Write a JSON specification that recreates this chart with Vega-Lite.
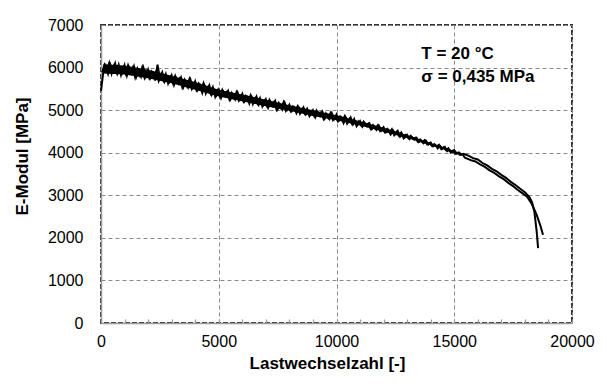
{
 "$schema": "https://vega.github.io/schema/vega-lite/v6.json",
 "width": 471, "height": 298,
 "autosize": {"type": "none"},
 "padding": {"left": 101, "top": 25, "right": 35, "bottom": 62},
 "background": "white",
 "config": {"view": {"stroke": "#333", "strokeWidth": 2, "strokeDash": [5, 2]}, "font": "Liberation Sans"},
 "datasets": {
  "band": [
   {"N":100,"lo":5860,"hi":6080},{"N":1000,"lo":5840,"hi":6050},{"N":2000,"lo":5750,"hi":5950},{"N":3000,"lo":5630,"hi":5810},{"N":4000,"lo":5480,"hi":5660},
   {"N":5000,"lo":5320,"hi":5480},{"N":6000,"lo":5210,"hi":5370},{"N":7000,"lo":5090,"hi":5245},{"N":8000,"lo":4985,"hi":5115},{"N":9000,"lo":4865,"hi":4995},
   {"N":10000,"lo":4760,"hi":4880},{"N":11000,"lo":4640,"hi":4740},{"N":12000,"lo":4495,"hi":4585},{"N":13000,"lo":4345,"hi":4415},{"N":14000,"lo":4175,"hi":4225},
   {"N":15000,"lo":4000,"hi":4040},{"N":15400,"lo":3940,"hi":3960}
  ],
  "A": [
   {"N":0,"E":5450},{"N":100,"E":5904},{"N":200,"E":6042},{"N":300,"E":5855},{"N":400,"E":6071},{"N":500,"E":5936},{"N":600,"E":6100},{"N":700,"E":5861},{"N":800,"E":5986},{"N":900,"E":5877},
   {"N":1000,"E":6054},{"N":1100,"E":5810},{"N":1200,"E":5995},{"N":1300,"E":5868},{"N":1400,"E":6027},{"N":1500,"E":5783},{"N":1600,"E":5929},{"N":1700,"E":5789},{"N":1800,"E":6000},{"N":1900,"E":5795},
   {"N":2000,"E":5954},{"N":2100,"E":5756},{"N":2200,"E":5870},{"N":2300,"E":5696},{"N":2400,"E":6070},{"N":2500,"E":5750},{"N":2600,"E":5887},{"N":2700,"E":5667},{"N":2800,"E":5769},{"N":2900,"E":5664},
   {"N":3000,"E":5812},{"N":3100,"E":5590},{"N":3200,"E":5748},{"N":3300,"E":5629},{"N":3400,"E":5764},{"N":3500,"E":5541},{"N":3600,"E":5665},{"N":3700,"E":5534},{"N":3800,"E":5715},{"N":3900,"E":5527},
   {"N":4000,"E":5674},{"N":4100,"E":5472},{"N":4200,"E":5582},{"N":4300,"E":5404},{"N":4400,"E":5583},{"N":4500,"E":5450},{"N":4600,"E":5583},{"N":4700,"E":5359},{"N":4800,"E":5457},{"N":4900,"E":5348},
   {"N":5000,"E":5480},{"N":5100,"E":5289},{"N":5200,"E":5428},{"N":5300,"E":5327},{"N":5400,"E":5446},{"N":5500,"E":5255},{"N":5600,"E":5364},{"N":5700,"E":5253},{"N":5800,"E":5412},{"N":5900,"E":5251},
   {"N":6000,"E":5380},{"N":6100,"E":5208},{"N":6200,"E":5306},{"N":6300,"E":5154},{"N":6400,"E":5312},{"N":6500,"E":5200},{"N":6600,"E":5318},{"N":6700,"E":5126},{"N":6800,"E":5214},{"N":6900,"E":5122},
   {"N":7000,"E":5250},{"N":7100,"E":5058},{"N":7200,"E":5196},{"N":7300,"E":5094},{"N":7400,"E":5212},{"N":7500,"E":5020},{"N":7600,"E":5128},{"N":7700,"E":5016},{"N":7800,"E":5174},{"N":7900,"E":5012},
   {"N":8000,"E":5127},{"N":8100,"E":4978},{"N":8200,"E":5060},{"N":8300,"E":4929},{"N":8400,"E":5062},{"N":8500,"E":4964},{"N":8600,"E":5063},{"N":8700,"E":4898},{"N":8800,"E":4971},{"N":8900,"E":4891},
   {"N":9000,"E":4998},{"N":9100,"E":4834},{"N":9200,"E":4951},{"N":9300,"E":4863},{"N":9400,"E":4963},{"N":9500,"E":4798},{"N":9600,"E":4890},{"N":9700,"E":4793},{"N":9800,"E":4927},{"N":9900,"E":4788},
   {"N":10000,"E":4897},{"N":10100,"E":4747},{"N":10200,"E":4828},{"N":10300,"E":4696},{"N":10400,"E":4828},{"N":10500,"E":4729},{"N":10600,"E":4827},{"N":10700,"E":4661},{"N":10800,"E":4733},{"N":10900,"E":4652},
   {"N":11000,"E":4742},{"N":11100,"E":4610},{"N":11200,"E":4693},{"N":11300,"E":4619},{"N":11400,"E":4689},{"N":11500,"E":4556},{"N":11600,"E":4620},{"N":11700,"E":4539},{"N":11800,"E":4635},{"N":11900,"E":4522},
   {"N":12000,"E":4599},{"N":12100,"E":4478},{"N":12200,"E":4534},{"N":12300,"E":4427},{"N":12400,"E":4522},{"N":12500,"E":4440},{"N":12600,"E":4509},{"N":12700,"E":4376},{"N":12800,"E":4425},{"N":12900,"E":4357},
   {"N":13000,"E":4416},{"N":13100,"E":4317},{"N":13200,"E":4367},{"N":13300,"E":4308},{"N":13400,"E":4349},{"N":13500,"E":4249},{"N":13600,"E":4286},{"N":13700,"E":4222},{"N":13800,"E":4281},{"N":13900,"E":4195},
   {"N":14000,"E":4241},{"N":14100,"E":4150},{"N":14200,"E":4182},{"N":14300,"E":4101},{"N":14400,"E":4160},{"N":14500,"E":4096},{"N":14600,"E":4137},{"N":14700,"E":4038},{"N":14800,"E":4065},{"N":14900,"E":4011},
   {"N":15000,"E":4059},{"N":15100,"E":3983},{"N":15200,"E":4006},{"N":15300,"E":3957},{"N":15400,"E":3974},
   {"N":15600,"E":3931},{"N":15800,"E":3873},{"N":16000,"E":3840},{"N":16200,"E":3758},{"N":16400,"E":3701},{"N":16600,"E":3620},{"N":16800,"E":3561},{"N":17000,"E":3481},{"N":17200,"E":3408},{"N":17400,"E":3316},
   {"N":17600,"E":3243},{"N":17800,"E":3154},{"N":18000,"E":3070},{"N":18200,"E":2950},{"N":18300,"E":2840},{"N":18400,"E":2620},{"N":18500,"E":2150},{"N":18560,"E":1760}
  ],
  "B": [
   {"N":50,"E":5891},{"N":150,"E":6068},{"N":250,"E":5946},{"N":350,"E":6110},{"N":450,"E":5858},{"N":550,"E":6035},{"N":650,"E":5887},{"N":750,"E":6064},{"N":850,"E":5825},{"N":950,"E":6002},
   {"N":1050,"E":5854},{"N":1150,"E":6052},{"N":1250,"E":5899},{"N":1350,"E":6006},{"N":1450,"E":5775},{"N":1550,"E":5973},{"N":1650,"E":5820},{"N":1750,"E":6005},{"N":1850,"E":5761},{"N":1950,"E":5894},
   {"N":2050,"E":5753},{"N":2150,"E":5901},{"N":2250,"E":5784},{"N":2350,"E":5921},{"N":2450,"E":5689},{"N":2550,"E":5838},{"N":2650,"E":5698},{"N":2750,"E":5846},{"N":2850,"E":5626},{"N":2950,"E":5774},
   {"N":3050,"E":5634},{"N":3150,"E":5804},{"N":3250,"E":5662},{"N":3350,"E":5751},{"N":3450,"E":5540},{"N":3550,"E":5709},{"N":3650,"E":5567},{"N":3750,"E":5725},{"N":3850,"E":5503},{"N":3950,"E":5615},
   {"N":4050,"E":5473},{"N":4150,"E":5617},{"N":4250,"E":5496},{"N":4350,"E":5629},{"N":4450,"E":5393},{"N":4550,"E":5538},{"N":4650,"E":5394},{"N":4750,"E":5538},{"N":4850,"E":5314},{"N":4950,"E":5458},
   {"N":5050,"E":5325},{"N":5150,"E":5474},{"N":5250,"E":5353},{"N":5350,"E":5432},{"N":5450,"E":5251},{"N":5550,"E":5400},{"N":5650,"E":5279},{"N":5750,"E":5418},{"N":5850,"E":5227},{"N":5950,"E":5326},
   {"N":6050,"E":5205},{"N":6150,"E":5333},{"N":6250,"E":5231},{"N":6350,"E":5349},{"N":6450,"E":5147},{"N":6550,"E":5275},{"N":6650,"E":5153},{"N":6750,"E":5281},{"N":6850,"E":5089},{"N":6950,"E":5217},
   {"N":7050,"E":5095},{"N":7150,"E":5243},{"N":7250,"E":5121},{"N":7350,"E":5199},{"N":7450,"E":5017},{"N":7550,"E":5165},{"N":7650,"E":5043},{"N":7750,"E":5181},{"N":7850,"E":4989},{"N":7950,"E":5087},
   {"N":8050,"E":4977},{"N":8150,"E":5084},{"N":8250,"E":4995},{"N":8350,"E":5094},{"N":8450,"E":4920},{"N":8550,"E":5028},{"N":8650,"E":4922},{"N":8750,"E":5029},{"N":8850,"E":4864},{"N":8950,"E":4971},
   {"N":9050,"E":4865},{"N":9150,"E":4991},{"N":9250,"E":4886},{"N":9350,"E":4952},{"N":9450,"E":4796},{"N":9550,"E":4921},{"N":9650,"E":4816},{"N":9750,"E":4933},{"N":9850,"E":4769},{"N":9950,"E":4852},
   {"N":10050,"E":4747},{"N":10150,"E":4853},{"N":10250,"E":4763},{"N":10350,"E":4861},{"N":10450,"E":4686},{"N":10550,"E":4793},{"N":10650,"E":4686},{"N":10750,"E":4792},{"N":10850,"E":4626},{"N":10950,"E":4732},
   {"N":11050,"E":4639},{"N":11150,"E":4729},{"N":11250,"E":4642},{"N":11350,"E":4686},{"N":11450,"E":4560},{"N":11550,"E":4649},{"N":11650,"E":4562},{"N":11750,"E":4645},{"N":11850,"E":4513},{"N":11950,"E":4570},
   {"N":12050,"E":4483},{"N":12150,"E":4558},{"N":12250,"E":4483},{"N":12350,"E":4552},{"N":12450,"E":4412},{"N":12550,"E":4488},{"N":12650,"E":4400},{"N":12750,"E":4475},{"N":12850,"E":4342},{"N":12950,"E":4417},
   {"N":13050,"E":4343},{"N":13150,"E":4398},{"N":13250,"E":4330},{"N":13350,"E":4353},{"N":13450,"E":4258},{"N":13550,"E":4312},{"N":13650,"E":4244},{"N":13750,"E":4294},{"N":13850,"E":4195},{"N":13950,"E":4227},
   {"N":14050,"E":4159},{"N":14150,"E":4204},{"N":14250,"E":4145},{"N":14350,"E":4186},{"N":14450,"E":4082},{"N":14550,"E":4128},{"N":14650,"E":4060},{"N":14750,"E":4105},{"N":14850,"E":4006},{"N":14950,"E":4051},
   {"N":15050,"E":3976},{"N":15150,"E":3996},{"N":15250,"E":3947},{"N":15350,"E":3964},{"N":15450,"E":3885},
   {"N":15700,"E":3825},{"N":15900,"E":3794},{"N":16100,"E":3725},{"N":16300,"E":3666},{"N":16500,"E":3584},{"N":16700,"E":3525},{"N":16900,"E":3446},{"N":17100,"E":3379},{"N":17300,"E":3287},{"N":17500,"E":3214},
   {"N":17700,"E":3125},{"N":17900,"E":3046},{"N":18100,"E":2960},{"N":18300,"E":2790},{"N":18500,"E":2540},{"N":18650,"E":2300},{"N":18770,"E":2070}
  ],
  "notes": [
   {"t": "T = 20 °C", "N": 13600, "E": 6190},
   {"t": "σ = 0,435 MPa", "N": 13600, "E": 5670}
  ]
 },
 "encoding": {
  "x": {"field": "N", "type": "quantitative", "title": "Lastwechselzahl [-]",
   "scale": {"domain": [0, 20000], "nice": false},
   "axis": {
    "values": [0,1000,2000,3000,4000,5000,6000,7000,8000,9000,10000,11000,12000,13000,14000,15000,16000,17000,18000,19000,20000],
    "format": "d",
    "labelExpr": "datum.value % 5000 === 0 ? datum.label : ''",
    "labelOverlap": false, "labelFlush": false,
    "labelFontSize": 16, "labelColor": "black", "labelPadding": 14,
    "tickSize": -4, "tickColor": "#999", "tickWidth": 1.2,
    "domainColor": "#999", "domainWidth": 1.5,
    "grid": true, "gridColor": "#888", "gridDash": [4, 3],
    "gridOpacity": {"condition": {"test": "datum.value % 5000 === 0 && datum.value > 0", "value": 1}, "value": 0},
    "titleFontSize": 17, "titleFontWeight": "bold", "titleColor": "black", "titlePadding": 6, "titleX": 226
   }
  },
  "y": {"field": "E", "type": "quantitative", "title": "E-Modul [MPa]",
   "scale": {"domain": [0, 7000], "nice": false},
   "axis": {"values": [0,1000,2000,3000,4000,5000,6000,7000], "format": "d",
    "labelFontSize": 16, "labelColor": "black", "labelPadding": 18, "ticks": false,
    "domainColor": "#999", "domainWidth": 1.5,
    "grid": true, "gridColor": "#888", "gridDash": [4, 3],
    "titleFontSize": 17, "titleFontWeight": "bold", "titleColor": "black", "titlePadding": 16, "titleY": 131}}
 },
 "layer": [
  {"data": {"name": "band"},
   "mark": {"type": "area", "color": "black", "opacity": 1},
   "encoding": {
    "y": {"field": "lo", "type": "quantitative", "title": "E-Modul [MPa]"},
    "y2": {"field": "hi"}
   }},
  {"data": {"name": "A"},
   "mark": {"type": "line", "color": "black", "strokeWidth": 2}},
  {"data": {"name": "B"},
   "mark": {"type": "line", "color": "black", "strokeWidth": 2}},
  {"data": {"name": "notes"},
   "mark": {"type": "text", "align": "left", "baseline": "alphabetic", "fontSize": 17, "fontWeight": "bold", "color": "black"},
   "encoding": {
    "text": {"field": "t"}
   }}
 ]
}
